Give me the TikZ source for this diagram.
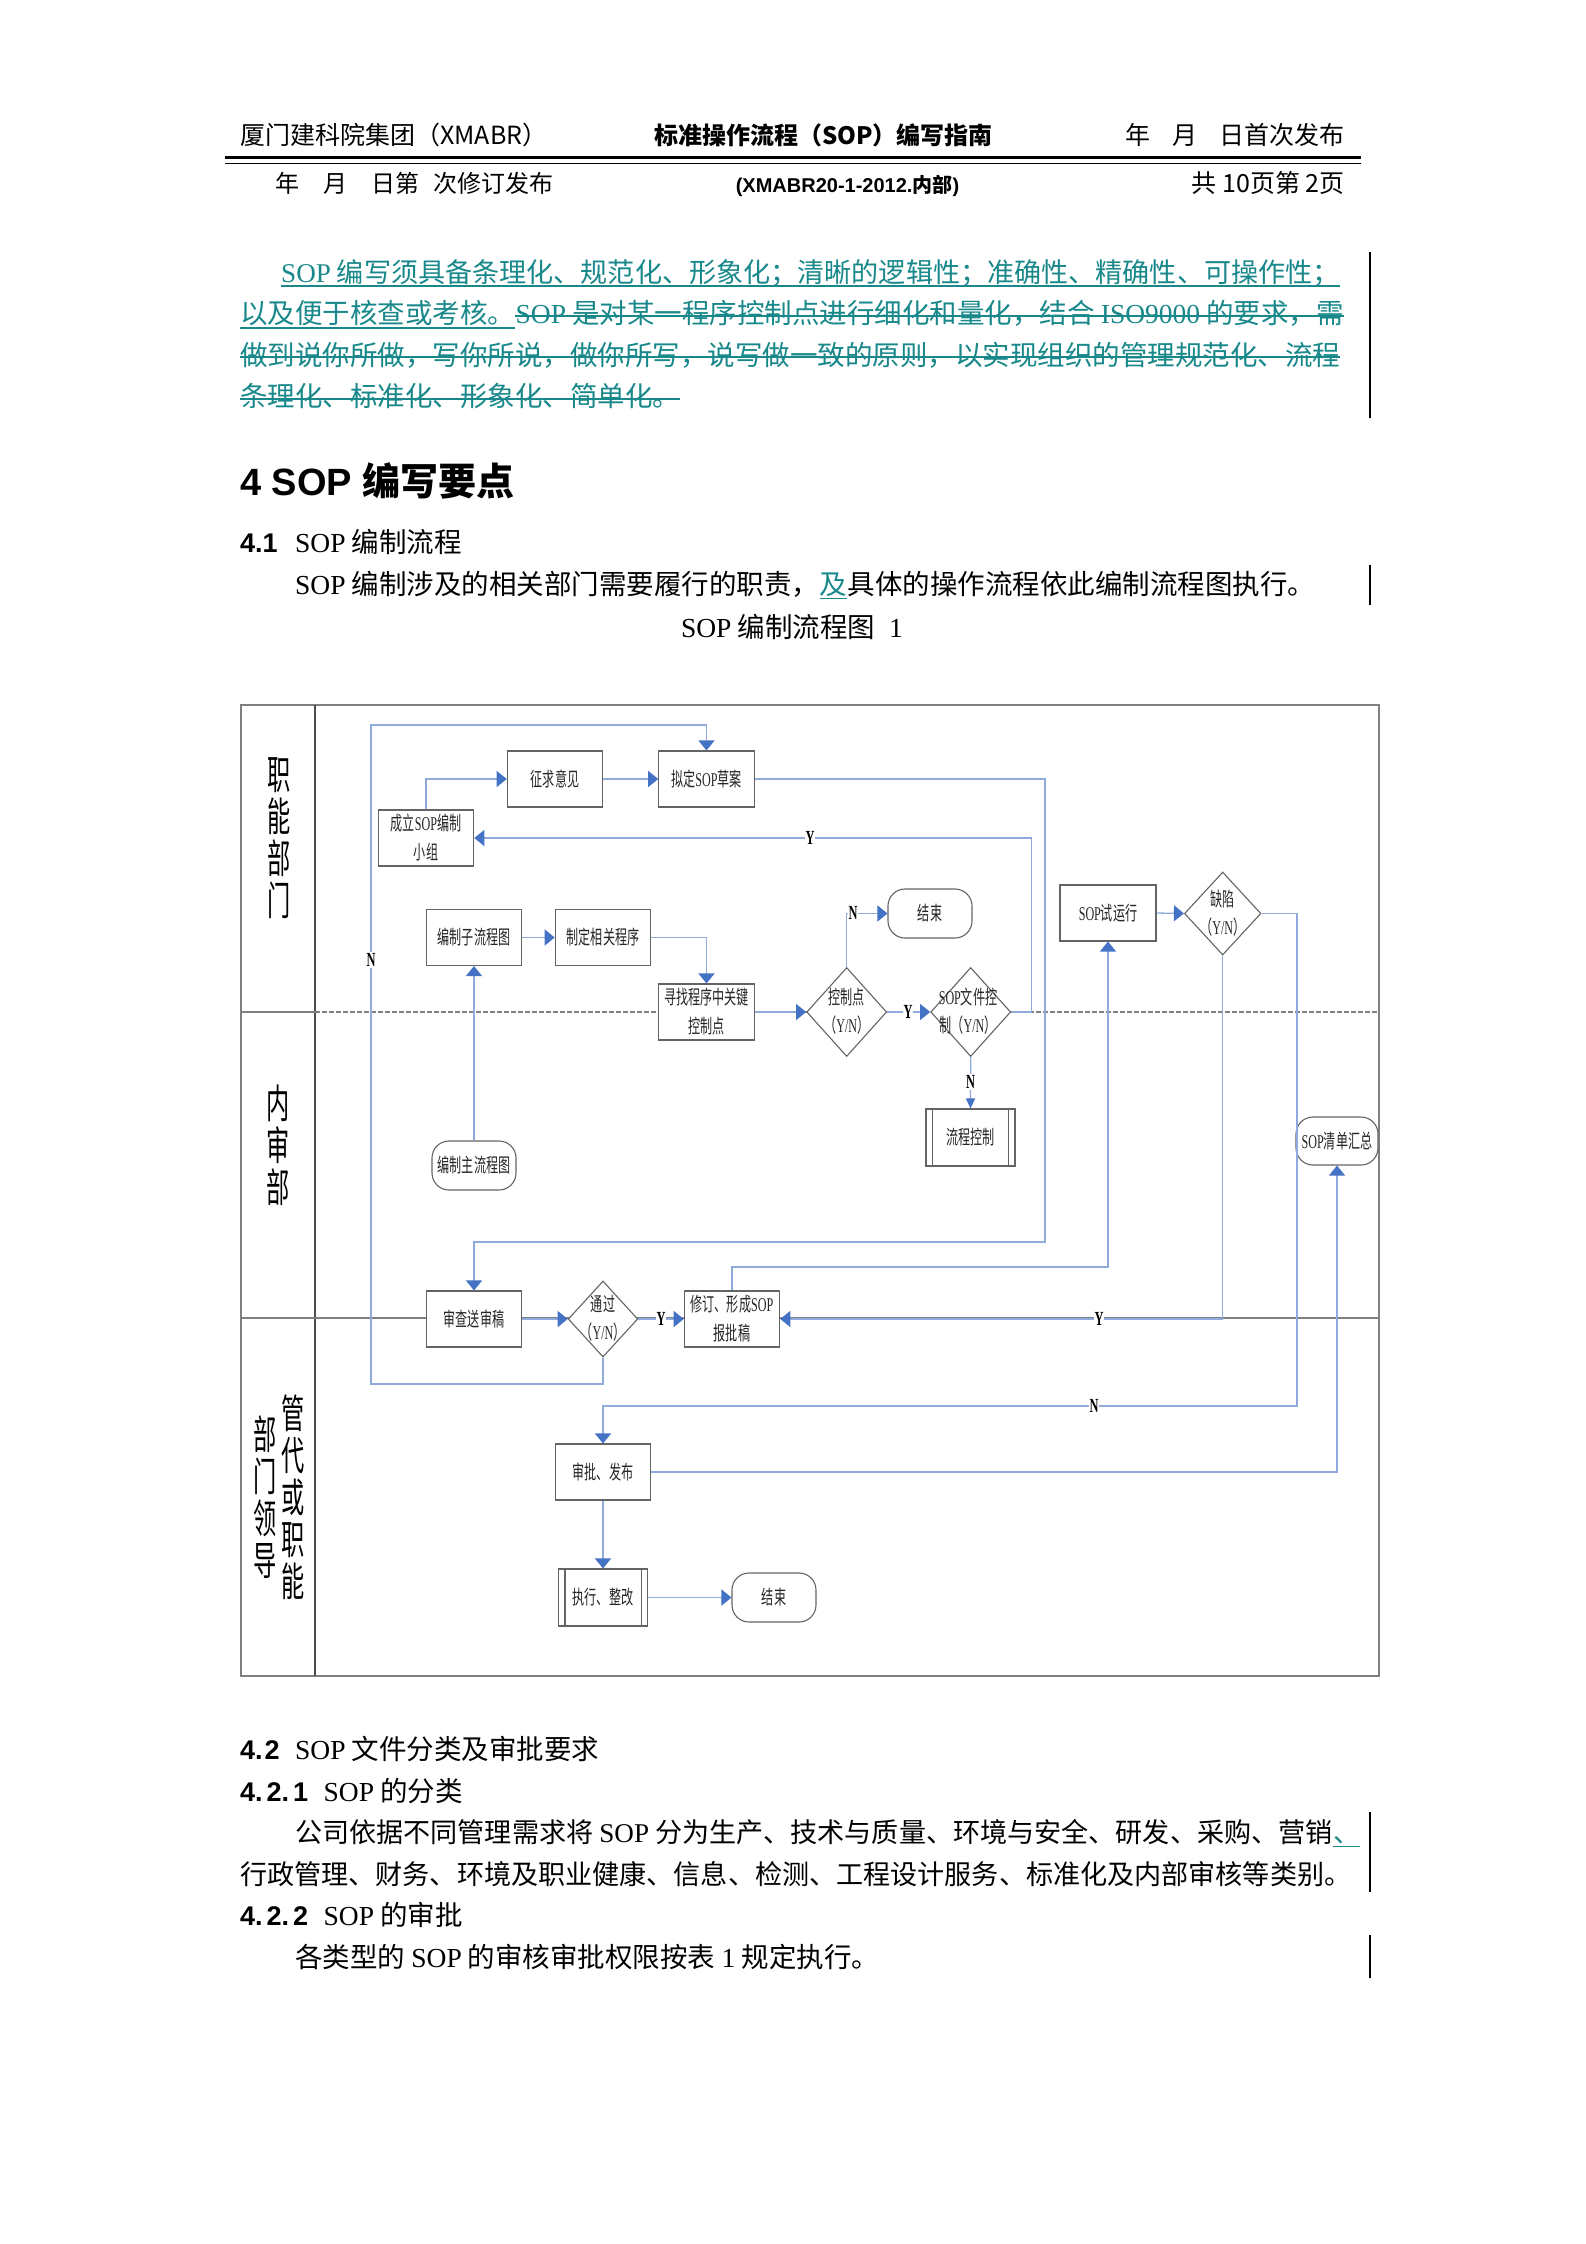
\documentclass[tikz,border=0pt]{standalone}
\usepackage{fontspec}
\usetikzlibrary{arrows.meta,shapes.geometric}
\setmainfont{Noto Sans CJK SC}
\newfontfamily\cjk{Noto Sans CJK SC}
\newfontfamily\latf{Liberation Serif}
\newfontfamily\hsans{Liberation Sans}
\newfontfamily\dgc[FakeStretch=0.62]{Noto Sans CJK SC}
\newfontfamily\dgl[FakeStretch=0.62]{Liberation Serif}
\newfontfamily\lanef[FakeStretch=0.58]{Noto Sans CJK SC}
\definecolor{teal1}{RGB}{24,136,138}
\definecolor{lnblue}{RGB}{143,170,220}
\definecolor{arblue}{RGB}{68,114,196}
\definecolor{bdgray}{RGB}{100,100,100}
\definecolor{frgray}{RGB}{128,128,128}
\newcommand\bodylat[1]{{\latf #1}}
\newcommand\dglat[1]{{\dgl #1}}
\begin{document}
\begin{tikzpicture}[x=1pt,y=-1pt,
  conn/.style={draw=lnblue, line width=1.3pt, -{Triangle[length=10pt,width=16pt,color=arblue]}},
  smallarr/.style={-{Triangle[length=10pt,width=9pt,color=arblue]}},
  box/.style={draw=bdgray, line width=1.1pt, fill=white, minimum width=95.5pt, minimum height=56pt,
    inner sep=0pt, align=center, font=\dgc\fontsize{19.5}{29}\selectfont, text=black!85},
  term/.style={box, rounded corners=17pt, minimum width=84pt, minimum height=49pt},
  dia/.style={diamond, draw=bdgray, line width=1.1pt, fill=white, inner sep=0pt},
  dtext/.style={inner sep=0pt, align=center, font=\dgc\fontsize{19.5}{28}\selectfont, text=black!85},
  lbl/.style={font=\dgl\bfseries\fontsize{20}{20}\selectfont, fill=white, inner sep=1pt, text=black},
  lane/.style={font=\lanef\fontsize{40}{42}\selectfont, align=center, inner sep=0pt, text=black},
  hdr/.style={inner sep=0pt, font=\cjk\fontsize{25}{25}\selectfont, text=black},
  body/.style={anchor=base west, inner sep=0pt, font=\cjk\fontsize{27.5}{41.5}\selectfont, text=black},
  bodys/.style={body, font=\cjk\fontsize{27.1}{41.5}\selectfont},
  hnum/.style={anchor=base west, inner sep=0pt, font=\hsans\bfseries\fontsize{27}{27}\selectfont, text=black},
  uln/.style={draw=teal1, line width=2pt},
]
\fill[white] (0,0) rectangle (1586,2244);
\useasboundingbox (0,0) rectangle (1586,2244);

% ---------- header ----------
\node[hdr, anchor=base west] (hL) at (240,144) {厦门建科院集团（XMABR）};
\node[hdr, anchor=base, font=\cjk\bfseries\fontsize{24}{24}\selectfont] (hC) at (823.5,144) {标准操作流程（SOP）编写指南};
\node[hdr, anchor=base east] (hR) at (1345,144) {年\hspace{22pt}月\hspace{22pt}日首次发布};
\draw[black, line width=3.5pt] (225,157.5) -- (1361,157.5);
\draw[black, line width=1.8pt] (225,163.5) -- (1361,163.5);
\node[hdr, anchor=base west, font=\cjk\fontsize{24}{24}\selectfont] (h2L) at (275,192.5) {年\hspace{24pt}月\hspace{24pt}日第\hspace{14pt}次修订发布};
\node[anchor=base, inner sep=0pt, font=\hsans\bfseries\fontsize{20}{20}\selectfont] (h2C) at (847.5,192.5) {(XMABR20-1-2012.{\cjk\bfseries 内部})};
\node[hdr, anchor=base east] (h2R) at (1345,192.5) {共 10页第 2页};

% ---------- paragraph ----------
\node[bodys, text=teal1] (p1a) at (281,282) {\bodylat{SOP} 编写须具备条理化、规范化、形象化；清晰的逻辑性；准确性、精确性、可操作性；};
\node[body, text=teal1] (p1b1) at (240,323.5) {以及便于核查或考核。};
\node[body, text=teal1] (p1b2) at (p1b1.base east) {\bodylat{SOP} 是对某一程序控制点进行细化和量化，结合 \bodylat{ISO9000} 的要求，需};
\node[body, text=teal1] (p1c) at (240,365) {做到说你所做，写你所说，做你所写，说写做一致的原则，以实现组织的管理规范化、流程};
\node[body, text=teal1] (p1d) at (240,406.5) {条理化、标准化、形象化、简单化。};
\draw[uln] ([yshift=-4pt]p1a.base west) -- ([yshift=-4pt]p1a.base east);
\draw[uln] ([yshift=-4pt]p1b1.base west) -- ([yshift=-4pt]p1b1.base east);
\draw[uln] ([yshift=8pt]p1b2.base west) -- ([yshift=8pt]p1b2.base east);
\draw[uln] ([yshift=8pt]p1c.base west) -- ([yshift=8pt]p1c.base east);
\draw[uln] ([yshift=8pt]p1d.base west) -- ([yshift=8pt]p1d.base east);
\draw[black, line width=1.5pt] (1370,252) -- (1370,418);
\draw[black, line width=1.5pt] (1370,565) -- (1370,605);
\draw[black, line width=1.5pt] (1370,1812) -- (1370,1892);
\draw[black, line width=1.5pt] (1370,1935) -- (1370,1978);

\node[anchor=base west, inner sep=0pt, font=\cjk\bfseries\fontsize{38}{38}\selectfont] (h4) at (240,495) {{\hsans\bfseries 4 SOP }编写要点};
\node[hnum] (s41n) at (240,552) {4.1};
\node[body] (s41t) at (295,552) {\bodylat{SOP} 编制流程};
\node[body] (s41p1) at (295,594.5) {\bodylat{SOP} 编制涉及的相关部门需要履行的职责，};
\node[body, text=teal1] (s41p2) at (s41p1.base east) {及};
\node[body] (s41p3) at (s41p2.base east) {具体的操作流程依此编制流程图执行。};
\draw[uln, line width=1.5pt] ([yshift=-4pt]s41p2.base west) -- ([yshift=-4pt]s41p2.base east);
\node[body, anchor=base] (cap) at (792,637) {\bodylat{SOP} 编制流程图\hspace{14pt}\bodylat{1}};

% ---------- flowchart frame ----------
\draw[frgray, line width=1.5pt] (241,705) rectangle (1379,1676);
\draw[black!70, line width=1.1pt] (315,705) -- (315,1676);
\draw[frgray, line width=1.2pt] (241,1012) -- (315,1012);
\draw[frgray, line width=1.4pt, dash pattern=on 5pt off 2pt] (315,1012) -- (1379,1012);
\draw[frgray, line width=1.2pt] (241,1318) -- (1379,1318);

\node[lane] (lane1) at (279,838.5) {职\\能\\部\\门};
\node[lane] (lane2) at (278,1145) {内\\审\\部};
\node[lane] (lane3a) at (293,1497) {管\\代\\或\\职\\能};
\node[lane] (lane3b) at (265,1497) {部\\门\\领\\导};

% ---------- nodes ----------
\node[box] (zq) at (555,779) {征求意见};
\node[box] (nd) at (706.5,779) {拟定\dglat{SOP}草案};
\node[box] (cl) at (426,838) {成立\dglat{SOP}编制\\小组};
\node[box] (zlc) at (474,937.5) {编制子流程图};
\node[box] (xg) at (603,937.5) {制定相关程序};
\node[box] (xz) at (706.5,1012) {寻找程序中关键\\控制点};
\node[dia, minimum width=80pt, minimum height=89pt] (d1) at (846.7,1012) {};
\node[dtext] (d1t) at (846.7,1011) {控制点\\（\dglat{Y/N}）};
\node[dia, minimum width=80pt, minimum height=89pt] (d2) at (970.7,1012) {};
\node[dtext] (d2t) at (968,1011) {\dglat{SOP}文件控\\制（\dglat{Y/N}）};
\node[term] (end1) at (930,913.5) {结束};
\node[box, minimum width=89pt, minimum height=57pt] (lk) at (970.5,1137.5) {流程控制};
\draw[bdgray, line width=1.1pt] ([xshift=7pt]lk.north west) -- ([xshift=7pt]lk.south west);
\draw[bdgray, line width=1.1pt] ([xshift=-7pt]lk.north east) -- ([xshift=-7pt]lk.south east);
\node[box, minimum width=96pt] (sy) at (1108,913) {\dglat{SOP}试运行};
\node[dia, minimum width=76.5pt, minimum height=83pt] (qx) at (1222.7,913.5) {};
\node[dtext] (qxt) at (1222.7,913.5) {缺陷\\（\dglat{Y/N}）};
\node[term, minimum width=82pt, minimum height=48pt] (hz) at (1337,1141) {\dglat{SOP}清单汇总};
\node[term] (zlt) at (474,1165.5) {编制主流程图};
\node[box] (sc) at (474,1319) {审查送审稿};
\node[dia, minimum width=69.6pt, minimum height=76pt] (tg) at (603,1319) {};
\node[dtext] (tgt) at (603,1318) {通过\\（\dglat{Y/N}）};
\node[box] (xd) at (732,1319) {修订、形成\dglat{SOP}\\报批稿};
\node[box] (sp) at (603,1472) {审批、发布};
\node[box, minimum width=89pt, minimum height=57pt] (zx) at (603,1597.5) {执行、整改};
\draw[bdgray, line width=1.1pt] ([xshift=7pt]zx.north west) -- ([xshift=7pt]zx.south west);
\draw[bdgray, line width=1.1pt] ([xshift=-7pt]zx.north east) -- ([xshift=-7pt]zx.south east);
\node[term] (end2) at (774,1597.5) {结束};

% ---------- connectors ----------
\coordinate (c1) at (1045,1242);
\coordinate (n1) at (371,1384);
\coordinate (n2) at (371,725);
\coordinate (y1) at (1031.5,1012);
\coordinate (t1) at (1108,1267);
\coordinate (m1) at (1297,1406);

\draw[conn] (cl.north) |- (zq.west);
\draw[conn] (zq.east) -- (nd.west);
\draw[conn] (nd.east) -| (c1) -| (sc.north);
\draw[conn] (tg.south) |- (n1) -- (n2) -| (nd.north);
\draw[conn] (d2.east) -- (y1) |- (cl.east);
\draw[conn] (zlt.north) -- (zlc.south);
\draw[conn] (zlc.east) -- (xg.west);
\draw[conn] (xg.east) -| (xz.north);
\draw[conn] (xz.east) -- (d1.west);
\draw[conn] (d1.north) |- (end1.west);
\draw[conn] (d1.east) -- (d2.west);
\draw[conn, smallarr] (d2.south) -- (lk.north);
\draw[conn] (xd.north) |- (t1) -- (sy.south);
\draw[conn] (sy.east) -- (qx.west);
\draw[conn] (qx.south) |- (xd.east);
\draw[conn] (qx.east) -| (m1) -| (sp.north);
\draw[conn] (sp.east) -| (hz.south);
\draw[conn] (sc.east) -- (tg.west);
\draw[conn] (tg.east) -- (xd.west);
\draw[conn] (sp.south) -- (zx.north);
\draw[conn] (zx.east) -- (end2.west);

\node[lbl] (lN1) at (371,960) {N};
\node[lbl] (lY1) at (810,838) {Y};
\node[lbl] (lN2) at (853,913) {N};
\node[lbl] (lY2) at (908,1012) {Y};
\node[lbl] (lN3) at (970.7,1082) {N};
\node[lbl] (lY3) at (1099,1319) {Y};
\node[lbl] (lN4) at (1094,1406) {N};
\node[lbl] (lY4) at (661,1319) {Y};

% ---------- section 4.2 ----------
\node[hnum] (s42n) at (240,1759) {4.\kern2pt 2};
\node[body] (s42t) at (295,1759) {\bodylat{SOP} 文件分类及审批要求};
\node[hnum] (s421n) at (240,1801) {4.\kern4pt 2.\kern4pt 1};
\node[body] (s421t) at (323.5,1801) {\bodylat{SOP} 的分类};
\node[bodys] (p2a1) at (295,1842.5) {公司依据不同管理需求将 \bodylat{SOP} 分为生产、技术与质量、环境与安全、研发、采购、营销};
\node[bodys, text=teal1] (p2a2) at (p2a1.base east) {、};
\draw[uln, line width=1.5pt] ([yshift=-4pt]p2a2.base west) -- ([yshift=-4pt]p2a2.base east);
\node[bodys] (p2b) at (240,1884) {行政管理、财务、环境及职业健康、信息、检测、工程设计服务、标准化及内部审核等类别。};
\node[hnum] (s422n) at (240,1925.5) {4.\kern4pt 2.\kern4pt 2};
\node[body] (s422t) at (323.5,1925.5) {\bodylat{SOP} 的审批};
\node[body] (p3a) at (295,1967) {各类型的 \bodylat{SOP} 的审核审批权限按表 \bodylat{1} 规定执行。};
\end{tikzpicture}
\end{document}
